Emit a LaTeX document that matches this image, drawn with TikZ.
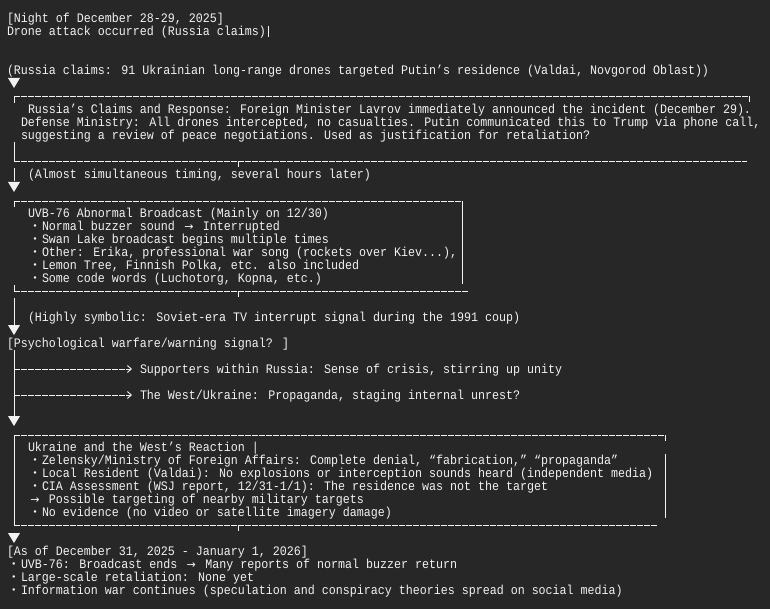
\documentclass[tikz,border=0pt]{standalone}
\usepackage{fontspec}
\newfontfamily\monof[FakeStretch=0.897]{Liberation Mono}
\newfontfamily\arrowf{DejaVu Sans}
\newfontfamily\jpf{Noto Sans CJK JP}
\usetikzlibrary{arrows.meta}
\definecolor{bgc}{RGB}{39,39,39}
\definecolor{fgc}{RGB}{242,242,242}
\newcommand{\fwbox}[1]{\makebox[14pt][c]{#1}}
\newcommand{\arr}{\fwbox{\arrowf\fontsize{11pt}{11pt}\selectfont →}}
\newcommand{\bul}{\fwbox{\jpf\fontsize{12pt}{12pt}\selectfont ・}}
\begin{document}
\begin{tikzpicture}[x=1pt, y=-1pt, line width=0.9pt, color=fgc,
  txt/.style={anchor=base west, inner sep=0pt, outer sep=0pt, text=fgc,
    font=\monof\fontsize{13pt}{13pt}\selectfont},
  hl/.style={dash pattern=on 6pt off 1pt},
  downtri/.pic={\fill[fgc] (-6,-5) -- (6,-5) -- (0,5) -- cycle;},
  brarrow/.style={hl, -{Straight Barb[length=4pt,width=7pt]}, shorten >=8pt}]
% background
\fill[bgc] (0,0) rectangle (770,609);
\useasboundingbox (0,0) rectangle (770,609);

% header
\node[txt] (hdr) at (7,22.5) {[Night of December 28-29, 2025]};
\node[txt] (drone) at (7,35.5) {Drone attack occurred (Russia claims)};
\coordinate (cur) at (268,26);
\draw[line width=0.8pt] (cur) -- ++(0,11);
\node[txt] (claim) at (7,74.5) {(Russia claims: 91 Ukrainian long-range drones targeted Putin’s residence (Valdai, Novgorod Oblast))};
\pic at (14,83) {downtri};

% box 1
\draw[hl] (14,96) -- (749,96);
\draw (749,96) -- (749,102);
\draw (14,96) -- (14,103);
\draw (14,142) -- (14,161);
\draw[hl] (14,161) -- (747,161);
\draw (238,161) -- (238,167);
\node[txt] (b1a) at (28,113.5) {Russia’s Claims and Response: Foreign Minister Lavrov immediately announced the incident (December 29).};
\node[txt] (b1b) at (21,126.5) {Defense Ministry: All drones intercepted, no casualties. Putin communicated this to Trump via phone call,};
\node[txt] (b1c) at (21,139.5) {suggesting a review of peace negotiations. Used as justification for retaliation?};

\coordinate (v1a) at (14,168);
\coordinate (v1b) at (14,181);
\draw (v1a) -- (v1b);
\node[txt] (timing) at (28,178.5) {(Almost simultaneous timing, several hours later)};
\pic at (14,187) {downtri};

% box 2
\draw[hl] (14,201) -- (462,201);
\draw (462,201) -- (462,284);
\draw (14,201) -- (14,207);
\draw (14,285) -- (14,291);
\draw[hl] (14,291) -- (469,291);
\draw (238,291) -- (238,297);
\node[txt] (b2h) at (28,217.5) {UVB-76 Abnormal Broadcast (Mainly on 12/30)};
\node[txt] (b2a) at (28,230.5) {\bul Normal buzzer sound \arr{} Interrupted};
\node[txt] (b2b) at (28,243.5) {\bul Swan Lake broadcast begins multiple times};
\node[txt] (b2c) at (28,256.5) {\bul Other: Erika, professional war song (rockets over Kiev...),};
\node[txt] (b2d) at (28,269.5) {\bul Lemon Tree, Finnish Polka, etc. also included};
\node[txt] (b2e) at (28,282.5) {\bul Some code words (Luchotorg, Kopna, etc.)};

\coordinate (v2a) at (14,298);
\coordinate (v2b) at (14,325);
\draw (v2a) -- (v2b);
\node[txt] (symb) at (28,321.5) {(Highly symbolic: Soviet-era TV interrupt signal during the 1991 coup)};
\pic at (14,330) {downtri};

% psychological warfare
\node[txt] (psy) at (7,347.5) {[Psychological warfare/warning signal? ]};
\coordinate (tk0) at (14,350);
\coordinate (tk1) at (14,416);
\draw (tk0) -- (tk1);
\coordinate (br1) at (14,369);
\coordinate (br2) at (14,395);
\node[txt] (sup) at (140,373.5) {Supporters within Russia: Sense of crisis, stirring up unity};
\node[txt] (west) at (140,399.5) {The West/Ukraine: Propaganda, staging internal unrest?};
\draw[brarrow] (br1) -- (br1 -| sup.west);
\draw[brarrow] (br2) -- (br2 -| west.west);
\pic at (14,421) {downtri};

% box 3
\draw[hl] (14,435) -- (665,435);
\draw (665,435) -- (665,441);
\draw (665,454) -- (665,518);
\draw (14,435) -- (14,525);
\draw[hl] (14,525) -- (657,525);
\draw (238,525) -- (238,531);
\node[txt] (b3h) at (28,451.5) {Ukraine and the West’s Reaction |};
\node[txt] (b3a) at (28,464.5) {\bul Zelensky/Ministry of Foreign Affairs: Complete denial, “fabrication,” “propaganda”};
\node[txt] (b3b) at (28,477.5) {\bul Local Resident (Valdai): No explosions or interception sounds heard (independent media)};
\node[txt] (b3c) at (28,490.5) {\bul CIA Assessment (WSJ report, 12/31-1/1): The residence was not the target};
\node[txt] (b3d) at (28,503.5) {\arr{} Possible targeting of nearby military targets};
\node[txt] (b3e) at (28,516.5) {\bul No evidence (no video or satellite imagery damage)};
\pic at (14,538) {downtri};

% final status
\node[txt] (fin) at (7,555.5) {[As of December 31, 2025 - January 1, 2026]};
\node[txt] (fa) at (7,568.5) {\bul UVB-76: Broadcast ends \arr{} Many reports of normal buzzer return};
\node[txt] (fb) at (7,581.5) {\bul Large-scale retaliation: None yet};
\node[txt] (fc) at (7,594.5) {\bul Information war continues (speculation and conspiracy theories spread on social media)};
\end{tikzpicture}
\end{document}
